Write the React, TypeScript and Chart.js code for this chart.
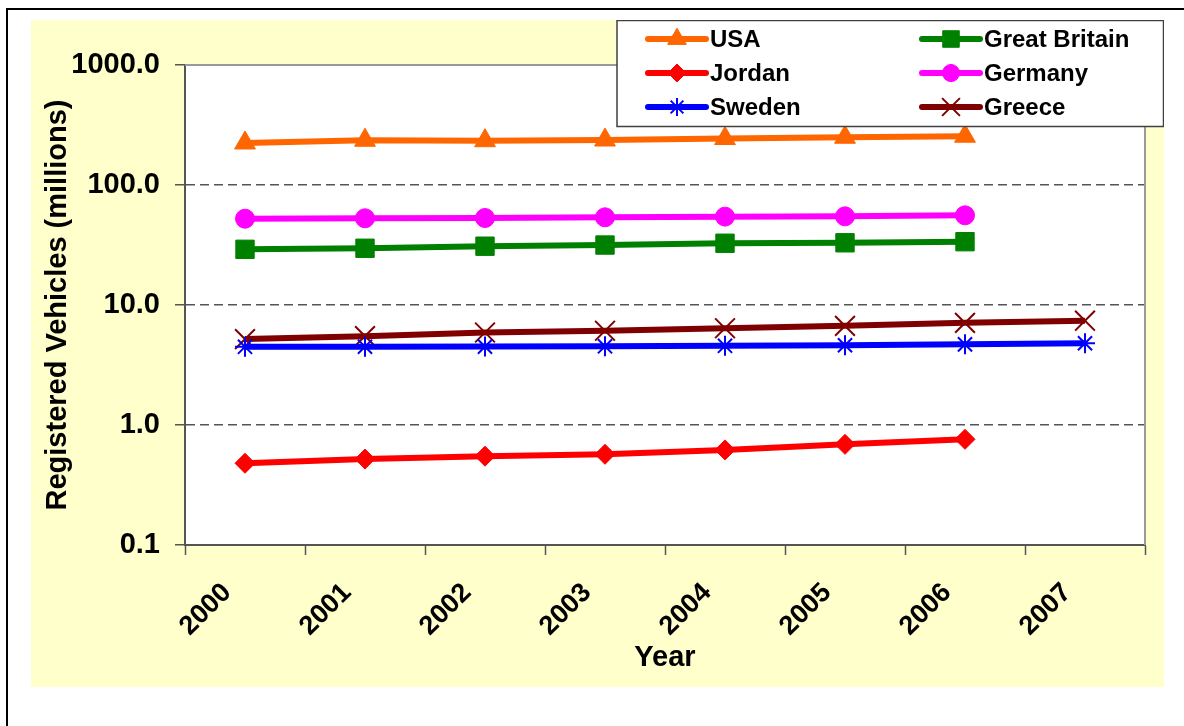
import React, { useEffect, useRef } from 'react';
import { Chart, registerables } from 'chart.js';
import { drawPoint } from 'chart.js/helpers';

Chart.register(...registerables);

// ---- data ----
const years = ['2000', '2001', '2002', '2003', '2004', '2005', '2006', '2007'];
const usa = [224, 236, 234, 237, 244, 250, 255];
const greatBritain = [29.1, 29.7, 30.9, 31.6, 32.7, 33.0, 33.7];
const jordan = [0.48, 0.52, 0.55, 0.57, 0.62, 0.69, 0.76];
const germany = [52.4, 52.8, 53.1, 53.8, 54.5, 54.8, 55.9];
const sweden = [4.48, 4.49, 4.5, 4.53, 4.57, 4.62, 4.7, 4.8];
const greece = [5.2, 5.5, 5.9, 6.1, 6.4, 6.7, 7.1, 7.4];
const yTickValues = [0.1, 1, 10, 100, 1000];
const yTickLabels = ['0.1', '1.0', '10.0', '100.0', '1000.0'];
const gridValues = [1, 10, 100];

const FONT = "'Liberation Sans', Arial, Helvetica, sans-serif";

const plotFrame = {
  id: 'plotFrame',
  beforeDraw(chart: any) {
    const { ctx, chartArea } = chart;
    const { left, top, right, bottom } = chartArea;
    ctx.save();
    ctx.fillStyle = '#ffffff';
    ctx.fillRect(left, top, right - left, bottom - top);
    ctx.restore();
  },
  beforeDatasetsDraw(chart: any) {
    const { ctx, chartArea } = chart;
    const { left, top, right, bottom } = chartArea;
    ctx.save();
    ctx.strokeStyle = '#9a9a9a';
    ctx.lineWidth = 2;
    ctx.beginPath();
    ctx.moveTo(left, top);
    ctx.lineTo(right, top);
    ctx.lineTo(right, bottom);
    ctx.stroke();
    ctx.restore();
  },
};

const boxLegend = {
  id: 'boxLegend',
  afterDraw(chart: any) {
    const ctx = chart.ctx as CanvasRenderingContext2D;
    const bx = 586, by = 0.5, bw = 546.5, bh = 106;
    ctx.save();
    ctx.fillStyle = '#ffffff';
    ctx.fillRect(bx, by, bw, bh);
    ctx.strokeStyle = '#404040';
    ctx.lineWidth = 1.5;
    ctx.strokeRect(bx, by, bw, bh);
    const colX = [617, 891];
    const rowY = [19, 53, 87];
    const lineLen = 58;
    chart.data.datasets.forEach((ds: any, i: number) => {
      const cx = colX[i % 2];
      const cy = rowY[Math.floor(i / 2)];
      ctx.strokeStyle = ds.borderColor;
      ctx.fillStyle = ds.pointBackgroundColor;
      ctx.lineWidth = 6;
      ctx.lineCap = 'round';
      ctx.setLineDash([]);
      ctx.beginPath();
      ctx.moveTo(cx, cy);
      ctx.lineTo(cx + lineLen, cy);
      ctx.stroke();
      ctx.lineCap = 'butt';
      ctx.lineWidth = ds.pointBorderWidth;
      ctx.strokeStyle = ds.pointBorderColor;
      drawPoint(ctx, {
        pointStyle: ds.pointStyle,
        radius: ds.pointRadius * 0.9,
        rotation: 0,
        borderWidth: ds.pointBorderWidth,
      } as any, cx + lineLen / 2, cy);
      ctx.fillStyle = '#000000';
      ctx.font = `bold 24px ${FONT}`;
      ctx.textBaseline = 'middle';
      ctx.textAlign = 'left';
      ctx.fillText(ds.label, cx + lineLen + 4, cy + 1);
    });
    ctx.restore();
  },
};

function series(label: string, data: number[], color: string, pointStyle: string, radius: number, pbw: number) {
  return {
    label,
    data,
    borderColor: color,
    backgroundColor: color,
    pointBackgroundColor: color,
    pointBorderColor: color,
    borderWidth: 6,
    pointStyle,
    pointRadius: radius,
    pointHoverRadius: radius,
    pointBorderWidth: pbw,
    tension: 0,
    fill: false,
  };
}

export default function App() {
  const ref = useRef<HTMLCanvasElement>(null);

  useEffect(() => {
    const canvas = ref.current;
    if (!canvas) return;
    Chart.defaults.font.family = FONT;
    const chart = new Chart(canvas, {
      type: 'line',
      data: {
        labels: years,
        datasets: [
          series('USA', usa, '#FF6600', 'triangle', 12, 1),
          series('Great Britain', greatBritain, '#008000', 'rect', 13, 1),
          series('Jordan', jordan, '#FF0000', 'rectRot', 10, 1),
          series('Germany', germany, '#FF00FF', 'circle', 9.5, 1),
          series('Sweden', sweden, '#0000FF', 'star', 10, 2),
          series('Greece', greece, '#800000', 'crossRot', 14, 2),
        ] as any,
      },
      options: {
        animation: false,
        responsive: false,
        events: [],
        layout: { padding: { top: 45, right: 19, left: 0, bottom: 0 } },
        plugins: {
          legend: { display: false },
          tooltip: { enabled: false },
        },
        scales: {
          x: {
            type: 'category',
            offset: true,
            grid: {
              offset: true,
              drawOnChartArea: false,
              drawTicks: true,
              tickLength: 10,
              tickColor: '#555555',
              tickWidth: 1.5,
            },
            border: { display: true, color: '#555555', width: 2 },
            ticks: {
              autoSkip: false,
              maxRotation: 45,
              minRotation: 45,
              color: '#000000',
              padding: 22,
              labelOffset: -18,
              font: { size: 27, weight: 'bold', family: FONT },
            },
            title: {
              display: true,
              text: 'Year',
              color: '#000000',
              font: { size: 29, weight: 'bold', family: FONT },
              padding: { top: 0, bottom: 12 },
            },
            afterFit: (s: any) => {
              s.height = 142;
            },
          },
          y: {
            type: 'logarithmic',
            min: 0.1,
            max: 1000,
            afterBuildTicks: (s: any) => {
              s.ticks = yTickValues.map((v) => ({ value: v }));
            },
            grid: {
              color: (c: any) =>
                c.tick && gridValues.includes(c.tick.value) ? '#555555' : 'rgba(0,0,0,0)',
              lineWidth: 1.5,
              drawTicks: true,
              tickLength: 10,
              tickColor: '#555555',
              tickWidth: 1.5,
              tickBorderDash: [],
            },
            border: { display: true, color: '#555555', width: 2, dash: [9, 5] },
            ticks: {
              color: '#000000',
              padding: 15,
              font: { size: 29, weight: 'bold', family: FONT },
              callback: (v: any) => {
                const i = yTickValues.indexOf(Number(v));
                return i >= 0 ? yTickLabels[i] : '';
              },
            },
            title: {
              display: true,
              text: 'Registered Vehicles (millions)',
              color: '#000000',
              font: { size: 29, weight: 'bold', family: FONT },
              padding: { top: 10, bottom: 0 },
            },
            afterFit: (s: any) => {
              s.width = 154;
            },
          },
        },
      } as any,
      plugins: [plotFrame, boxLegend],
    });
    return () => chart.destroy();
  }, []);

  return (
    <div
      style={{
        position: 'fixed',
        left: 0,
        top: 0,
        width: 1184,
        height: 726,
        overflow: 'hidden',
        background: '#ffffff',
      }}
    >
      <div
        style={{
          position: 'absolute',
          left: 6,
          top: 8,
          width: 1220,
          height: 800,
          border: '2px solid #000000',
        }}
      />
      <div
        style={{
          position: 'absolute',
          left: 31,
          top: 20,
          width: 1133,
          height: 667,
          background: '#FFFFCC',
        }}
      />
      <canvas
        ref={ref}
        width={1133}
        height={667}
        style={{ position: 'absolute', left: 31, top: 20, width: 1133, height: 667 }}
      />
    </div>
  );
}
